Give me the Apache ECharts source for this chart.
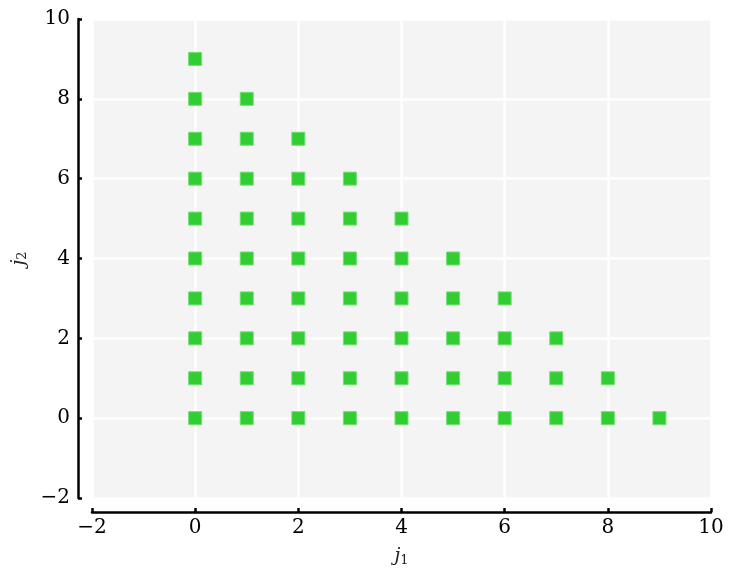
<!DOCTYPE html>
<html>
<head>
<meta charset="utf-8">
<script src="https://cdn.jsdelivr.net/npm/echarts@6/dist/echarts.min.js"></script>
<style>html,body{margin:0;padding:0;background:#fff}#c{width:735px;height:579px}</style>
</head>
<body>
<div id="c"></div>
<script>
var xTicks = [-2, 0, 2, 4, 6, 8, 10];
var yTicks = [-2, 0, 2, 4, 6, 8, 10];
var j1 = [0,0,0,0,0,0,0,0,0,0, 1,1,1,1,1,1,1,1,1, 2,2,2,2,2,2,2,2, 3,3,3,3,3,3,3, 4,4,4,4,4,4, 5,5,5,5,5, 6,6,6,6, 7,7,7, 8,8, 9];
var j2 = [0,1,2,3,4,5,6,7,8,9, 0,1,2,3,4,5,6,7,8, 0,1,2,3,4,5,6,7, 0,1,2,3,4,5,6, 0,1,2,3,4,5, 0,1,2,3,4, 0,1,2,3, 0,1,2, 0,1, 0];

var pts = j1.map(function(v, i){ return [v, j2[i]]; });
var FONT = 'DejaVu Serif';
function fmt(v){ return String(v).replace('-', '\u2212'); }

var chart = echarts.init(document.getElementById('c'), null, {renderer: 'canvas'});
var axisCommon = {
  type: 'value', min: -2, max: 10, interval: 2,
  offset: 14,
  axisLine: {show: true, onZero: false, lineStyle: {color: '#000', width: 2.5}},
  axisTick: {show: true, inside: true, length: 4, lineStyle: {color: '#000', width: 2.5}},
  splitLine: {show: true, lineStyle: {color: '#ffffff', width: 2.5}},
  axisLabel: {color: '#000', fontFamily: FONT, fontSize: 20, formatter: fmt},
  nameLocation: 'middle',
  nameTextStyle: {
    rich: {
      j: {fontFamily: FONT, fontStyle: 'italic', fontSize: 19, color: '#222'},
      s: {fontFamily: FONT, fontSize: 13, color: '#222', padding: [9, 0, 0, 0]}
    }
  }
};
chart.setOption({
  animation: false,
  grid: {left: 92, right: 24, top: 19, bottom: 81, show: true, backgroundColor: '#f4f4f4', borderWidth: 0},
  xAxis: Object.assign({}, axisCommon, {
    name: '{j|j}{s|1}', nameGap: 33,
    axisLabel: Object.assign({}, axisCommon.axisLabel, {margin: 6})
  }),
  yAxis: Object.assign({}, axisCommon, {
    name: '{j|j}{s|2}', nameGap: 45,
    axisLabel: Object.assign({}, axisCommon.axisLabel, {margin: 8})
  }),
  series: [{
    type: 'scatter',
    data: pts,
    symbol: 'rect',
    symbolSize: 13,
    itemStyle: {color: '#32cd32', borderColor: '#6fe06f', borderWidth: 1, opacity: 1}
  }]
});
</script>
</body>
</html>
